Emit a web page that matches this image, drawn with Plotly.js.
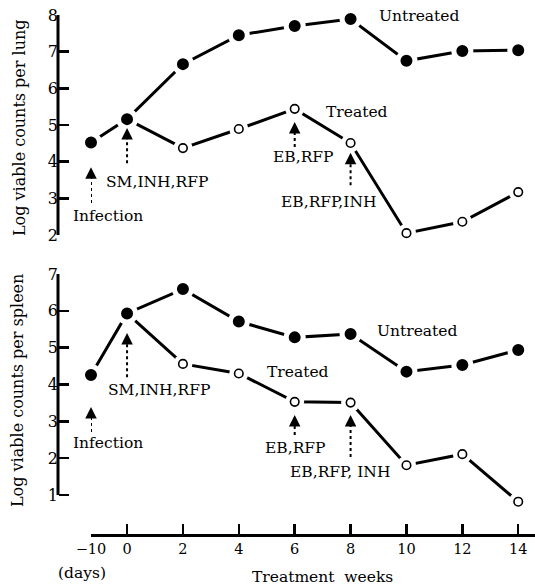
<!DOCTYPE html>
<html>
<head>
<meta charset="utf-8">
<script src="https://cdn.plot.ly/plotly-3.0.1.min.js"></script>
<style>html,body{margin:0;padding:0;background:#fff}#chart{width:535px;height:588px}</style>
</head>
<body>
<div id="chart"></div>
<script>
// Time points: first is "-10 days" (placed on the compressed axis), then treatment weeks
const xTime = [-1.29, 0, 2, 4, 6, 8, 10, 12, 14];
const xTickText = ['\u221210', '0', '2', '4', '6', '8', '10', '12', '14'];

// Lung (log viable counts)
const lungUntreated = [4.52, 5.16, 6.66, 7.45, 7.70, 7.89, 6.75, 7.02, 7.04];
const lungTreated   = [null, 5.16, 4.37, 4.89, 5.44, 4.51, 2.05, 2.36, 3.17];

// Spleen (log viable counts)
const spleenUntreated = [4.26, 5.93, 6.59, 5.71, 5.28, 5.37, 4.35, 4.53, 4.94];
const spleenTreated   = [null, 5.93, 4.56, 4.30, 3.53, 3.51, 1.81, 2.11, 0.82];

const lungTicks = [2, 3, 4, 5, 6, 7, 8];
const spleenTicks = [1, 2, 3, 4, 5, 6, 7];

const FONT = 'DejaVu Serif, Liberation Serif, serif';
const W = 535, H = 588;

function lineTrace(y, yaxis) {
  return {x: xTime, y: y, yaxis: yaxis, mode: 'lines', connectgaps: false,
    line: {color: '#000', width: 3}, hoverinfo: 'skip', cliponaxis: false};
}
function markerTraces(y, yaxis, filled) {
  const t = [];
  if (filled) {
    t.push({x: xTime, y: y, yaxis: yaxis, mode: 'markers', cliponaxis: false,
      marker: {symbol: 'circle', size: 17, color: '#000', line: {color: '#fff', width: 5}}, hoverinfo: 'skip'});
  } else {
    const xs = xTime.slice(2), ys = y.slice(2);
    t.push({x: xs, y: ys, yaxis: yaxis, mode: 'markers', cliponaxis: false,
      marker: {symbol: 'circle', size: 19, color: '#fff', line: {width: 0}}, hoverinfo: 'skip'});
    t.push({x: xs, y: ys, yaxis: yaxis, mode: 'markers', cliponaxis: false,
      marker: {symbol: 'circle', size: 8.5, color: '#fff', line: {color: '#000', width: 1.6}}, hoverinfo: 'skip'});
  }
  return t;
}

const data = [].concat(
  lineTrace(lungTreated, 'y2'), lineTrace(lungUntreated, 'y2'),
  lineTrace(spleenTreated, 'y'), lineTrace(spleenUntreated, 'y'),
  markerTraces(lungTreated, 'y2', false), markerTraces(lungUntreated, 'y2', true),
  markerTraces(spleenTreated, 'y', false), markerTraces(spleenUntreated, 'y', true)
);

// Arrows: [x, tip, tail, yref]
const arrows = [
  [-1.29, 3.85, 2.87, 'y2'], [0, 4.92, 3.96, 'y2'], [6, 5.08, 4.40, 'y2'], [8, 4.24, 3.36, 'y2'],
  [-1.29, 3.39, 2.71, 'y'], [0, 5.40, 4.20, 'y'], [6, 3.17, 2.63, 'y'], [8, 3.17, 2.03, 'y']
];
// Labels: [text, x, y, yref]
const labels = [
  ['Infection', -0.68, 2.52, 'y2'], ['SM,INH,RFP', 1.07, 3.45, 'y2'], ['EB,RFP', 6.30, 4.13, 'y2'],
  ['EB,RFP,INH', 7.20, 2.90, 'y2'], ['Untreated', 10.45, 7.97, 'y2'], ['Treated', 8.23, 5.35, 'y2'],
  ['Infection', -0.68, 2.41, 'y'], ['SM,INH,RFP', 1.15, 3.85, 'y'], ['EB,RFP', 6.02, 2.28, 'y'],
  ['EB,RFP, INH', 7.63, 1.62, 'y'], ['Untreated', 10.38, 5.45, 'y'], ['Treated', 6.12, 4.34, 'y']
];

const shapes = arrows.map(a => ({type: 'line', xref: 'x', yref: a[3], x0: a[0], x1: a[0],
  y0: a[2], y1: a[1] - 0.22, line: {color: '#000', width: 2, dash: 'dot'}}));

// Axis spines drawn as shapes so they stop exactly at the end ticks
shapes.push({type: 'line', xref: 'paper', yref: 'y2', x0: 58/W, x1: 58/W,
  y0: lungTicks[0], y1: lungTicks[lungTicks.length - 1], line: {color: '#000', width: 3}});
shapes.push({type: 'line', xref: 'paper', yref: 'y', x0: 58/W, x1: 58/W,
  y0: spleenTicks[0], y1: spleenTicks[spleenTicks.length - 1], line: {color: '#000', width: 3}});

const annotations = [];
arrows.forEach(a => annotations.push({xref: 'x', yref: a[3], x: a[0], y: a[1], text: '',
  showarrow: true, arrowhead: 2, arrowsize: 1.15, arrowwidth: 2, arrowcolor: '#000', ax: 0, ay: 10, standoff: 0}));
labels.forEach(l => annotations.push({xref: 'x', yref: l[3], x: l[1], y: l[2], text: l[0],
  showarrow: false, font: {family: FONT, size: 15.5, color: '#000'}, xanchor: 'center', yanchor: 'middle'}));
const paperText = (text, px, py, angle) => ({xref: 'paper', yref: 'paper', x: px / W, y: 1 - py / H,
  text: text, textangle: angle || 0, showarrow: false, xanchor: 'center', yanchor: 'middle',
  font: {family: FONT, size: angle ? 16 : 15.5, color: '#000'}});
annotations.push(paperText('Log viable counts per lung', 19, 128, -90));
annotations.push(paperText('Log viable counts per spleen', 17, 391, -90));
annotations.push(paperText('(days)', 82, 573));
annotations.push(paperText('Treatment  weeks', 322, 577));

const yCommon = {anchor: 'free', position: 58/W, showline: false,
  ticks: 'inside', ticklen: 10, tickwidth: 2.5, tickcolor: '#000', showgrid: false, zeroline: false,
  tickfont: {family: FONT, size: 16, color: '#000'}, fixedrange: true};

const layout = {
  width: W, height: H, margin: {l: 0, r: 0, t: 0, b: 0},
  paper_bgcolor: '#fff', plot_bgcolor: 'rgba(0,0,0,0)', showlegend: false,
  xaxis: {anchor: 'free', position: 1 - 535/H, domain: [91/W, 1], range: [-1.29, 14.6],
    showline: true, linewidth: 2.5, linecolor: '#000', ticks: 'inside', ticklen: 10, tickwidth: 2.5,
    tickcolor: '#000', tickvals: xTime, ticktext: xTickText, showgrid: false, zeroline: false,
    tickfont: {family: FONT, size: 14.5, color: '#000'}, fixedrange: true},
  // spleen: 1 at y=495px, 7 at 274px; range extended below 1 to keep the 14-week point visible
  yaxis: Object.assign({}, yCommon, {domain: [1 - 512/H, 1 - 274/H], range: [0.54, 7], tickvals: spleenTicks}),
  yaxis2: Object.assign({}, yCommon, {domain: [1 - 235/H, 1 - 15/H], range: [2, 8], tickvals: lungTicks}),
  shapes: shapes, annotations: annotations
};

Plotly.newPlot('chart', data, layout, {displayModeBar: false, staticPlot: true});
</script>
</body>
</html>
